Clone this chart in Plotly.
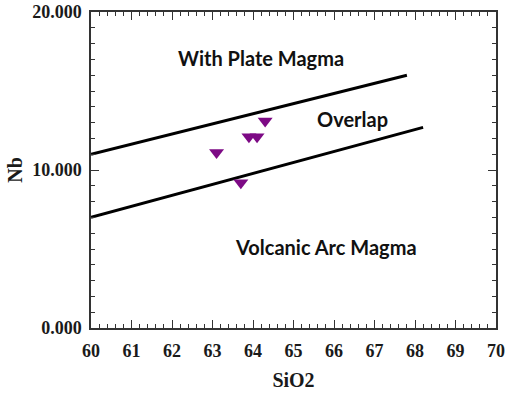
import plotly.graph_objects as go

# Sample analyses (SiO2 wt%, Nb ppm)
sio2 = [63.1, 63.9, 64.1, 64.3, 63.7]
nb = [11.1, 12.1, 12.1, 13.1, 9.2]

# Discrimination boundaries
upper_x = [60.0, 67.8]
upper_y = [11.0, 16.0]
lower_x = [60.0, 68.2]
lower_y = [7.0, 12.7]

# Field labels
field_labels = ["With Plate Magma", "Overlap", "Volcanic Arc Magma"]
field_x = [64.2, 66.45, 65.8]
field_y = [17.1, 13.25, 5.15]

x_ticks = list(range(60, 71))
y_ticks = [0, 10, 20]

fig = go.Figure()
for bx, by in [(upper_x, upper_y), (lower_x, lower_y)]:
    fig.add_trace(go.Scatter(x=bx, y=by, mode="lines",
                             line=dict(color="black", width=3),
                             hoverinfo="skip", showlegend=False))

fig.add_trace(go.Scatter(x=sio2, y=nb, mode="markers",
                         marker=dict(symbol="triangle-down", size=13,
                                     color="#7D0A85", line=dict(width=0)),
                         showlegend=False))

for t, tx, ty in zip(field_labels, field_x, field_y):
    fig.add_annotation(x=tx, y=ty, text=t, showarrow=False,
                       font=dict(family="Lato", size=20, color="#111", weight="bold"))

serif = "Liberation Serif, Times New Roman, serif"
axis_common = dict(showline=True, linecolor="#333", linewidth=1.5,
                   mirror="allticks", ticks="inside", tickcolor="#333",
                   ticklen=8, tickwidth=1.2, showgrid=False, zeroline=False,
                   automargin=False,
                   tickfont=dict(family=serif, size=18, color="#1a1a1a", weight="bold"))

fig.update_xaxes(range=[60, 70], tickvals=x_ticks, ticklabelstandoff=6,
                 minor=dict(dtick=0.2, ticks="inside", ticklen=4, tickcolor="#333", tickwidth=1),
                 title=dict(text="SiO2", font=dict(family=serif, size=20, color="#1a1a1a", weight="bold"),
                            standoff=13),
                 **axis_common)
fig.update_yaxes(range=[0, 20], tickvals=y_ticks, tickformat=".3f", ticklabelstandoff=4,
                 minor=dict(dtick=1, ticks="inside", ticklen=4, tickcolor="#333", tickwidth=1),
                 title=dict(text="Nb", font=dict(family=serif, size=20, color="#1a1a1a", weight="bold"),
                            standoff=4),
                 **axis_common)

fig.update_layout(width=510, height=400, margin=dict(l=91, r=14, t=12, b=72),
                  paper_bgcolor="white", plot_bgcolor="white", showlegend=False)

fig.write_html("out.html")
